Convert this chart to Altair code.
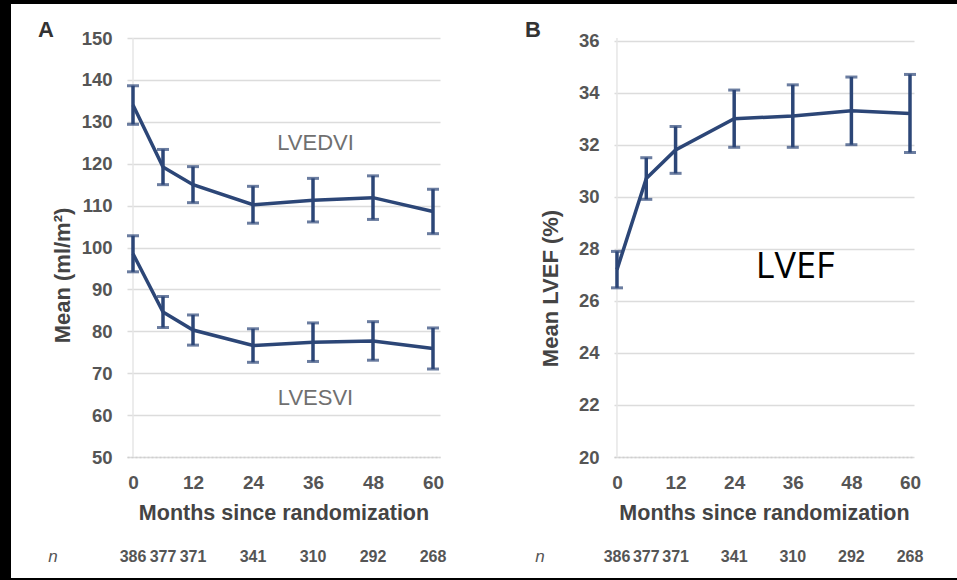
import altair as alt
import pandas as pd

months = [0, 6, 12, 24, 36, 48, 60]
lvedvi = [134.0, 119.2, 115.0, 110.2, 111.3, 111.9, 108.6]
lvedvi_err = [4.6, 4.2, 4.3, 4.4, 5.2, 5.2, 5.3]
lvesvi = [98.5, 84.6, 80.3, 76.6, 77.4, 77.7, 75.9]
lvesvi_err = [4.3, 3.7, 3.6, 4.0, 4.6, 4.6, 4.9]
lvef = [27.2, 30.7, 31.8, 33.0, 33.1, 33.3, 33.2]
lvef_err = [0.7, 0.8, 0.9, 1.1, 1.2, 1.3, 1.5]
n_vals = ["386", "377", "371", "341", "310", "292", "268"]

LINE = "#2c4677"
GRID = "#dcdcdc"
FONT = "Liberation Sans"

def frame(series, vals, errs):
    return pd.DataFrame({
        "month": months, "series": series, "mean": vals,
        "lo": [v - e for v, e in zip(vals, errs)],
        "hi": [v + e for v, e in zip(vals, errs)],
    })

dfA = pd.concat([frame("LVEDVI", lvedvi, lvedvi_err), frame("LVESVI", lvesvi, lvesvi_err)])
dfB = frame("LVEF", lvef, lvef_err)
ndf = pd.DataFrame({"month": months, "n": n_vals})
one = pd.DataFrame({"k": [0]})


def xaxis():
    return alt.Axis(values=[0, 12, 24, 36, 48, 60], title="Months since randomization",
                    grid=False, ticks=False, domainColor="#cfcfcf", domainDash=[2, 2],
                    domainWidth=1.5, labelFontSize=19, labelFontWeight="bold",
                    labelColor="#555555", labelPadding=16, titleFontSize=21.5,
                    titleFontWeight="bold", titleColor="#444444", titleY=45, labelFont=FONT,
                    titleFont=FONT)


def yaxis(values, title, tx, ty):
    return alt.Axis(values=values, title=title, grid=True, gridColor=GRID, gridWidth=1.5,
                    domain=False, ticks=False, labelPadding=15, labelFontSize=18.5,
                    labelFontWeight="bold", labelColor="#555555", titleFontSize=22,
                    titleFontWeight="bold", titleColor="#444444", titleX=tx, titleY=ty,
                    titleBaseline="middle", labelFont=FONT, titleFont=FONT)


def panel(df, xdom, ydom, yvals, ytitle, tx, ty, w, h, letter, left, right, show_left_strip,
          labels):
    xs = alt.Scale(domain=xdom, nice=False, zero=False)
    ys = alt.Scale(domain=ydom, nice=False, zero=False)
    base = alt.Chart(df)
    x = alt.X("month:Q", scale=xs, axis=xaxis())
    y = alt.Y("mean:Q", scale=ys, axis=yaxis(yvals, ytitle, tx, ty))
    zero_rule = alt.Chart(one).mark_rule(color="#e6e6e6", strokeWidth=1.5).encode(
        x=alt.datum(0, scale=xs), y=alt.value(0), y2=alt.value(h))
    line = base.mark_line(color=LINE, strokeWidth=3.5).encode(x=x, y=y, detail="series:N")
    bars = base.mark_rule(color=LINE, strokeWidth=3.5).encode(
        x="month:Q", y=alt.Y("lo:Q", scale=ys), y2="hi:Q")
    cap_lo = base.mark_tick(color=LINE, orient="horizontal", size=12, thickness=3).encode(
        x="month:Q", y=alt.Y("lo:Q", scale=ys))
    cap_hi = base.mark_tick(color=LINE, orient="horizontal", size=12, thickness=3).encode(
        x="month:Q", y=alt.Y("hi:Q", scale=ys))
    ntext = alt.Chart(ndf).mark_text(font=FONT, fontSize=16, fontWeight="bold",
                                     color="#555555").encode(
        x=alt.X("month:Q", scale=xs), y=alt.value(519), text="n:N")
    nlabel = alt.Chart(one).mark_text(text="n", font=FONT, fontSize=17, fontStyle="italic",
                                      color="#555555").encode(
        x=alt.value(-74), y=alt.value(519))
    let = alt.Chart(one).mark_text(text=letter, font=FONT, fontSize=22, fontWeight="bold",
                                   color="#333333").encode(
        x=alt.value(-81), y=alt.value(-8))
    lab_layers = []
    for (txt, mx, vy, size, color, font) in labels:
        lab_layers.append(alt.Chart(one).mark_text(text=txt, font=font, fontSize=size,
                                                   color=color).encode(
            x=alt.datum(mx, scale=xs), y=alt.datum(vy, scale=ys)))
    strips = []
    strips.append(alt.Chart(one).mark_rect(color="black").encode(
        x=alt.value(-left), x2=alt.value(right), y=alt.value(-38), y2=alt.value(-34)))
    strips.append(alt.Chart(one).mark_rect(color="black").encode(
        x=alt.value(-left), x2=alt.value(right), y=alt.value(540), y2=alt.value(542)))
    if show_left_strip:
        strips.append(alt.Chart(one).mark_rect(color="black").encode(
            x=alt.value(-left), x2=alt.value(-left + 11), y=alt.value(-38), y2=alt.value(542)))
    return alt.layer(zero_rule, line, bars, cap_lo, cap_hi, ntext, nlabel, let,
                     *lab_layers, *strips).properties(width=w, height=h)


A = panel(dfA, [-1.2, 61.4], [50, 150], list(range(50, 151, 10)), "Mean (ml/m²)",
          -65, 237, 313, 419, "A", 127, 363, True,
          [("LVEDVI", 36.5, 125, 22, "#707070", FONT),
           ("LVESVI", 36.5, 64, 22, "#707070", FONT)])
B = panel(dfB, [-0.61, 60.82], [20, 36.1], list(range(20, 37, 2)), "Mean LVEF (%)",
          -64, 250, 300, 419, "B", 124, 343, False,
          [("LVEF", 36.5, 27.3, 36, "#000000", "Open Sans")])

chart = alt.hconcat(A, B, spacing=0).properties(
    padding={"left": 0, "top": 0, "right": 0, "bottom": 0},
    background="white",
).configure_view(stroke=None)

chart.save("out.html", embed_options={"renderer": "svg", "actions": False})
